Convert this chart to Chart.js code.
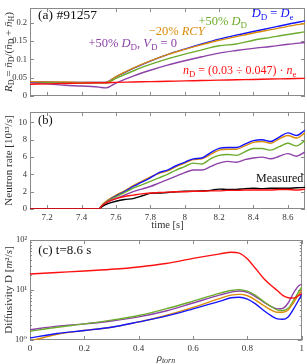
<!DOCTYPE html>
<html>
<head>
<meta charset="utf-8">
<script src="https://cdn.jsdelivr.net/npm/chart.js@4"></script>
<style>
body { margin: 0; background: #fff; }
#wrap { position: relative; width: 307px; height: 364px; }
canvas { position: absolute; left: 0; }
</style>
</head>
<body>
<div id="wrap">
<canvas id="ca" width="307" height="104" style="top:0px"></canvas>
<canvas id="cb" width="307" height="128" style="top:104px"></canvas>
<canvas id="cc" width="307" height="132" style="top:232px"></canvas>
</div>
<script>
// panel (a): deuterium ratio vs time
const timeA = [7.1, 7.2, 7.3, 7.4, 7.5, 7.54, 7.6, 7.7, 7.8, 7.9, 8.0, 8.1, 8.2, 8.3, 8.4, 8.5, 8.6, 8.7];
const rdBlue   = [0.038, 0.038, 0.037, 0.037, 0.037, 0.037, 0.052, 0.075, 0.095, 0.113, 0.128, 0.142, 0.155, 0.166, 0.176, 0.186, 0.196, 0.205];
const rdOrange = [0.039, 0.038, 0.038, 0.037, 0.037, 0.037, 0.053, 0.076, 0.096, 0.113, 0.127, 0.140, 0.152, 0.162, 0.172, 0.181, 0.190, 0.198];
const rdGreen  = [0.036, 0.036, 0.035, 0.035, 0.035, 0.035, 0.048, 0.068, 0.086, 0.101, 0.114, 0.126, 0.137, 0.142, 0.152, 0.160, 0.168, 0.175];
const rdPurple = [0.037, 0.033, 0.029, 0.027, 0.024, 0.022, 0.035, 0.054, 0.070, 0.084, 0.096, 0.107, 0.117, 0.124, 0.130, 0.135, 0.141, 0.146];
const rdRed    = [0.032, 0.033, 0.034, 0.035, 0.036, 0.036, 0.037, 0.038, 0.039, 0.040, 0.041, 0.042, 0.043, 0.044, 0.045, 0.046, 0.047, 0.048];

// panel (b): neutron rate vs time
const timeB = [7.1, 7.5, 7.52, 7.55, 7.6, 7.65, 7.7, 7.75, 7.8, 7.85, 7.9, 7.95, 8.0, 8.05, 8.1, 8.15, 8.2, 8.25, 8.3, 8.35, 8.4, 8.45, 8.5, 8.55, 8.6, 8.65, 8.7];
const nrBlue   = [0, 0, 0.4, 0.9, 1.5, 2.0, 2.6, 3.1, 3.6, 4.2, 4.5, 5.0, 5.4, 5.8, 5.9, 6.5, 7.0, 7.1, 7.1, 7.5, 7.9, 8.0, 7.8, 8.3, 8.8, 8.5, 9.1];
const nrOrange = [0, 0, 0.5, 1.0, 1.6, 2.1, 2.7, 3.2, 3.7, 4.1, 4.4, 4.9, 5.3, 5.7, 5.8, 6.3, 6.8, 6.9, 6.9, 7.3, 7.7, 7.8, 7.6, 8.1, 8.5, 8.2, 8.8];
const nrGreen  = [0, 0, 0.4, 0.9, 1.4, 1.9, 2.4, 2.8, 3.2, 3.6, 4.0, 4.5, 4.9, 5.3, 5.2, 5.8, 6.2, 6.3, 6.2, 6.6, 7.0, 7.0, 6.8, 7.2, 7.6, 7.3, 7.9];
const nrPurple = [0, 0, 0.3, 0.8, 1.2, 1.6, 2.0, 2.3, 2.6, 3.0, 3.4, 3.8, 4.2, 4.5, 4.5, 4.9, 5.3, 5.5, 5.4, 5.7, 5.9, 6.0, 5.8, 6.1, 6.4, 6.1, 6.6];
const nrRed    = [0, 0, 0.4, 0.8, 1.2, 1.45, 1.6, 1.75, 1.85, 1.9, 1.95, 2.0, 2.0, 2.05, 2.05, 2.1, 2.1, 2.15, 2.15, 2.2, 2.2, 2.2, 2.2, 2.25, 2.25, 2.2, 2.3];
const nrMeasured = [0, 0, 0.3, 0.6, 0.9, 1.1, 1.2, 1.5, 1.8, 1.85, 1.9, 2.0, 2.05, 2.05, 2.1, 2.15, 2.3, 2.25, 2.25, 2.35, 2.4, 2.35, 2.4, 2.4, 2.4, 2.45, 2.5];

// panel (c): diffusivity profile at t = 8.6 s
const rho = [0, 0.1, 0.2, 0.3, 0.4, 0.5, 0.6, 0.7, 0.74, 0.77, 0.8, 0.83, 0.86, 0.89, 0.91, 0.93, 0.95, 0.97, 0.99, 1.0];
const dRed    = [21, 22.5, 24, 26, 29, 34, 43, 53, 57, 55, 42, 27, 17, 12, 9.8, 7.8, 7.0, 6.9, 7.9, 8.5];
const dBlue   = [1.1, 1.35, 1.55, 1.8, 2.3, 3.0, 4.2, 6.0, 7.0, 7.2, 6.6, 5.3, 3.9, 3.0, 2.65, 2.6, 2.9, 4.2, 6.5, 8.2];
const dOrange = [0.95, 1.3, 1.55, 1.8, 2.3, 3.1, 4.5, 6.8, 7.9, 8.2, 7.7, 6.3, 4.9, 3.9, 3.6, 3.6, 4.0, 5.6, 8.3, 10];
const dGreen  = [1.5, 1.8, 2.1, 2.5, 3.1, 4.2, 6.0, 8.7, 9.8, 10.2, 9.5, 7.8, 5.9, 4.6, 4.0, 3.9, 4.3, 6.2, 9.5, 11.5];
const dPurple = [1.6, 1.9, 2.1, 2.4, 2.9, 3.8, 5.5, 8.0, 9.1, 9.6, 9.0, 7.4, 5.7, 4.6, 4.2, 4.3, 5.5, 8.8, 12.3, 13];

// ticks
const timeTicks = [7.2, 7.4, 7.6, 7.8, 8.0, 8.2, 8.4, 8.6];
const rdTicks = [0, 0.05, 0.1, 0.15, 0.2];
const nrTicks = [0, 2, 4, 6, 8, 10];
const rhoTicks = [0, 0.2, 0.4, 0.6, 0.8, 1];
const dTicks = [1, 2, 3, 4, 5, 6, 7, 8, 9, 10, 20, 30, 40, 50, 60, 70, 80, 90, 100];
const dTickLabels = {1: '10\u2070', 10: '10\u00b9', 100: '10\u00b2'};

const BLUE = '#1414ff';
const ORANGE = '#d98c0a';
const GREEN = '#6cac2c';
const PURPLE = '#8c42a8';
const RED = '#ff1010';
const SERIF = "'Liberation Serif', 'DejaVu Serif', serif";

function pts(xs, ys) {
    return xs.map((x, i) => ({x: x, y: ys[i]}));
}

function line(data, color) {
    return {
        data: data,
        borderColor: color,
        borderWidth: 1.4,
        pointRadius: 0,
        fill: false,
        cubicInterpolationMode: 'monotone'
    };
}

// draws text made of pieces, some italic, some subscripted
function drawRich(ctx, segs, x, y, size, color, align) {
    const fontOf = (s) => (s.i ? 'italic ' : '') + (s.sub ? size * 0.72 : size) + 'px ' + SERIF;
    let total = 0;
    for (const s of segs) {
        ctx.font = fontOf(s);
        total += ctx.measureText(s.t).width;
    }
    let cx = x;
    if (align === 'center') cx = x - total / 2;
    if (align === 'right') cx = x - total;
    ctx.fillStyle = color;
    ctx.textBaseline = 'middle';
    ctx.textAlign = 'left';
    for (const s of segs) {
        ctx.font = fontOf(s);
        ctx.fillText(s.t, cx, s.sub ? y + size * 0.3 : y);
        cx += ctx.measureText(s.t).width;
    }
}

// frame with inward tick marks, like the original plot
const framePlugin = {
    id: 'frame',
    beforeDatasetsDraw(chart) {
        const ctx = chart.ctx;
        const a = chart.chartArea;
        ctx.save();
        ctx.strokeStyle = '#8a8a8a';
        ctx.lineWidth = 1;
        ctx.strokeRect(Math.round(a.left) + 0.5, Math.round(a.top) + 0.5,
            Math.round(a.right - a.left) - 1, Math.round(a.bottom - a.top) - 1);
        ctx.beginPath();
        for (const t of chart.scales.x.ticks) {
            const px = Math.round(chart.scales.x.getPixelForValue(t.value)) + 0.5;
            ctx.moveTo(px, a.bottom); ctx.lineTo(px, a.bottom - 4);
            ctx.moveTo(px, a.top); ctx.lineTo(px, a.top + 4);
        }
        for (const t of chart.scales.y.ticks) {
            const py = Math.round(chart.scales.y.getPixelForValue(t.value)) + 0.5;
            const len = t.label === '' ? 2 : 4;
            ctx.moveTo(a.left, py); ctx.lineTo(a.left + len, py);
            ctx.moveTo(a.right, py); ctx.lineTo(a.right - len, py);
        }
        ctx.stroke();
        ctx.restore();
    }
};

// text labels placed in data coordinates
const notesPlugin = {
    id: 'notes',
    afterDatasetsDraw(chart, args, opts) {
        const ctx = chart.ctx;
        ctx.save();
        for (const n of opts.items || []) {
            const px = chart.scales.x.getPixelForValue(n.x);
            const py = chart.scales.y.getPixelForValue(n.y);
            drawRich(ctx, n.segs, px, py, n.size || 12.5, n.color || '#111', n.align || 'left');
        }
        if (opts.yTitle) {
            const a = chart.chartArea;
            ctx.translate(9, (a.top + a.bottom) / 2);
            ctx.rotate(-Math.PI / 2);
            drawRich(ctx, opts.yTitle, 0, 0, 11, '#333', 'center');
        }
        ctx.restore();
        if (opts.xTitle) {
            ctx.save();
            const a = chart.chartArea;
            drawRich(ctx, opts.xTitle, (a.left + a.right) / 2, chart.height - 6, 11, '#333', 'center');
            ctx.restore();
        }
    }
};

function fmt(v) {
    return String(+Number(v).toFixed(2));
}

function makeOptions(o) {
    return {
        responsive: false,
        animation: false,
        events: [],
        layout: {padding: {top: o.padTop, right: 2, left: 0, bottom: 0}},
        plugins: {
            legend: {display: false},
            tooltip: {enabled: false},
            notes: o.notes
        },
        scales: {
            x: {
                type: 'linear',
                min: o.xMin,
                max: o.xMax,
                grid: {display: false, drawTicks: false},
                border: {display: false},
                afterBuildTicks: (s) => { s.ticks = o.xTicks.map(v => ({value: v})); },
                afterFit: (s) => { s.height = o.xHeight; },
                ticks: {
                    display: o.xLabels,
                    maxRotation: 0,
                    autoSkip: false,
                    padding: 3,
                    color: '#333',
                    font: {family: SERIF, size: 9},
                    callback: fmt
                },
                title: {
                    display: !!o.xText,
                    text: o.xText || '',
                    color: '#333',
                    padding: {top: 0, bottom: 0},
                    font: {family: SERIF, size: 10.5}
                }
            },
            y: {
                type: o.yType || 'linear',
                min: o.yMin,
                max: o.yMax,
                grid: {display: false, drawTicks: false},
                border: {display: false},
                afterBuildTicks: (s) => { s.ticks = o.yTicks.map(v => ({value: v})); },
                afterFit: (s) => { s.width = 30; },
                ticks: {
                    autoSkip: false,
                    padding: 3,
                    color: '#333',
                    font: {family: SERIF, size: 8.5},
                    callback: o.yLabel || fmt
                }
            }
        }
    };
}

Chart.register(framePlugin, notesPlugin);

new Chart(document.getElementById('ca'), {
    type: 'line',
    data: {
        datasets: [
            line(pts(timeA, rdRed), RED),
            line(pts(timeA, rdPurple), PURPLE),
            line(pts(timeA, rdGreen), GREEN),
            line(pts(timeA, rdOrange), ORANGE),
            line(pts(timeA, rdBlue), BLUE)
        ]
    },
    options: makeOptions({
        padTop: 1, xMin: 7.1, xMax: 8.7, xTicks: timeTicks, xHeight: 2, xLabels: false,
        yMin: 0, yMax: 0.24, yTicks: rdTicks,
        notes: {
            items: [
                {x: 7.147, y: 0.221, size: 13.5, segs: [{t: '(a) #91257'}]},
                {x: 8.39, y: 0.224, color: BLUE, segs: [{t: 'D', i: true}, {t: 'D', sub: true}, {t: ' = '}, {t: 'D', i: true}, {t: 'e', sub: true}]},
                {x: 8.08, y: 0.203, color: GREEN, segs: [{t: '+50% '}, {t: 'D', i: true}, {t: 'D', sub: true}]},
                {x: 7.79, y: 0.175, color: ORANGE, segs: [{t: '\u221220% '}, {t: 'RCY', i: true}]},
                {x: 7.44, y: 0.142, color: PURPLE, segs: [{t: '+50% '}, {t: 'D', i: true}, {t: 'D', sub: true}, {t: ', '}, {t: 'V', i: true}, {t: 'D', sub: true}, {t: ' = 0'}]},
                {x: 7.99, y: 0.068, color: RED, size: 12, segs: [{t: 'n', i: true}, {t: 'D', sub: true}, {t: ' = (0.03 \u00f7 0.047) \u00b7 '}, {t: 'n', i: true}, {t: 'e', sub: true}]}
            ],
            yTitle: [{t: 'R', i: true}, {t: 'D', sub: true}, {t: ' = '}, {t: 'n\u0304', i: true}, {t: 'D', sub: true},
                {t: '/('}, {t: 'n\u0304', i: true}, {t: 'D', sub: true}, {t: ' + '}, {t: 'n\u0304', i: true}, {t: 'H', sub: true}, {t: ')'}]
        }
    })
});

new Chart(document.getElementById('cb'), {
    type: 'line',
    data: {
        datasets: [
            line(pts(timeB, nrRed), RED),
            line(pts(timeB, nrMeasured), '#000'),
            line(pts(timeB, nrPurple), PURPLE),
            line(pts(timeB, nrGreen), GREEN),
            line(pts(timeB, nrBlue), BLUE),
            line(pts(timeB, nrOrange), ORANGE)
        ]
    },
    options: makeOptions({
        padTop: 3, xMin: 7.1, xMax: 8.7, xTicks: timeTicks, xHeight: 23, xLabels: true, xText: 'time [s]',
        yMin: 0, yMax: 11.2, yTicks: nrTicks,
        notes: {
            items: [
                {x: 7.147, y: 10.2, segs: [{t: '(b)'}]},
                {x: 8.69, y: 3.5, align: 'right', size: 12, segs: [{t: 'Measured'}]}
            ],
            yTitle: [{t: 'Neutron rate [10\u00b9\u00b3/'}, {t: 's', i: true}, {t: ']'}]
        }
    })
});

new Chart(document.getElementById('cc'), {
    type: 'line',
    data: {
        datasets: [
            line(pts(rho, dRed), RED),
            line(pts(rho, dBlue), BLUE),
            line(pts(rho, dOrange), ORANGE),
            line(pts(rho, dGreen), GREEN),
            line(pts(rho, dPurple), PURPLE)
        ]
    },
    options: makeOptions({
        padTop: 8, xMin: 0, xMax: 1, xTicks: rhoTicks, xHeight: 24, xLabels: true,
        yType: 'logarithmic', yMin: 1, yMax: 100, yTicks: dTicks,
        yLabel: (v) => dTickLabels[v] || '',
        notes: {
            items: [
                {x: 0.03, y: 63, size: 13, segs: [{t: '(c) t=8.6 s'}]}
            ],
            yTitle: [{t: 'Diffusivity D ['}, {t: 'm', i: true}, {t: '\u00b2/'}, {t: 's', i: true}, {t: ']'}],
            xTitle: [{t: '\u03c1', i: true}, {t: 'torn', i: true, sub: true}]
        }
    })
});
</script>
</body>
</html>
